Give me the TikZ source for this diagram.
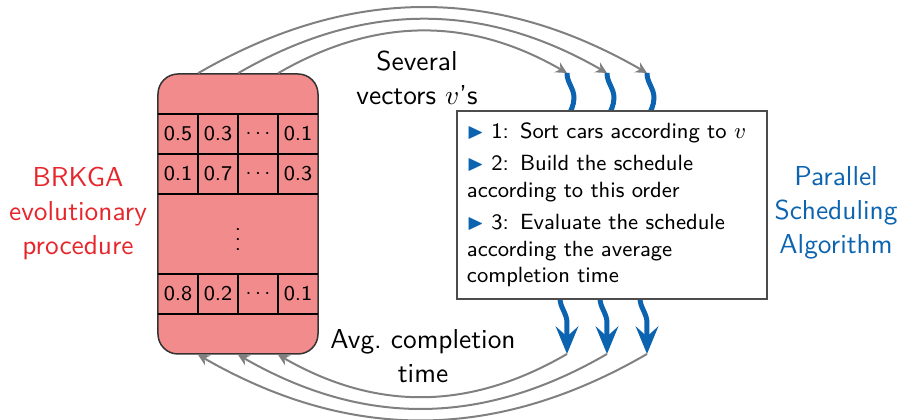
\documentclass[tikz,border=0pt]{standalone}
\usepackage{amssymb}
\usetikzlibrary{calc,arrows.meta,decorations.pathmorphing}

\definecolor{popred}{RGB}{242,139,139}
\definecolor{brkred}{RGB}{230,38,44}
\definecolor{algblue}{RGB}{12,100,176}

\newcommand{\itemtri}{{\color{algblue}$\blacktriangleright$}~}

\begin{document}
\begin{tikzpicture}[x=0.4pt, y=0.4pt,
  every node/.style={font=\sffamily},
  lbl/.style={align=center, font=\sffamily\fontsize{10.95}{13.6}\selectfont},
  cell/.style={inner sep=0pt, font=\sffamily\fontsize{8.4}{10}\selectfont},
  feed/.style={draw=gray, line width=0.8pt, -{Stealth[length=4.5pt,width=4.5pt]}, bend left=30},
  wave/.style={draw=algblue, line width=2pt, decorate,
    decoration={snake, segment length=32pt, amplitude=2.8pt, post length=4pt},
    -{Stealth[length=11pt,width=9pt,inset=4pt]}}]
\useasboundingbox (0,0) rectangle (903,420);

% Population of random-key vectors
\node[draw=black!80, line width=0.6pt, fill=popred, rounded corners=8pt,
  minimum width=64pt, minimum height=112pt, inner sep=0pt] (pop) at (238,206) {};
\foreach \y in {306,266,226,146,106}
  \draw[line width=0.5pt] (158,\y) -- (318,\y);
\foreach \x in {198,238,278} {
  \draw[line width=0.5pt] (\x,226) -- (\x,306);
  \draw[line width=0.5pt] (\x,106) -- (\x,146);
}
\foreach \r/\y/\a/\b/\d in {1/286/0.5/0.3/0.1, 2/246/0.1/0.7/0.3, 3/126/0.8/0.2/0.1} {
  \node[cell] (r\r-c1) at (178,\y) {\a};
  \node[cell] (r\r-c2) at (218,\y) {\b};
  \node[cell] (r\r-c3) at (258,\y) {$\cdots$};
  \node[cell] (r\r-c4) at (298,\y) {\d};
}
\node[cell] (dots) at (238,188) {$\vdots$};

% Wavy flows through the scheduler
\foreach \i/\x in {1/567,2/607,3/647} {
  \coordinate (in\i) at (\x,347);
  \coordinate (out\i) at (\x,66);
  \draw[wave] (in\i) -- (out\i);
}

\node[draw=black!70, line width=0.6pt, fill=white, minimum width=124pt,
  minimum height=75.2pt, inner xsep=4pt, text width=116pt, align=left,
  font=\sffamily\fontsize{8.8}{10.6}\selectfont]
  (alg) at (612,215) {\mbox{\itemtri 1: Sort cars according to $v$}\\[2.4pt]
  \itemtri 2: Build the schedule\\ according to this order\\[2.4pt]
  \itemtri 3: Evaluate the schedule\\ according the average\\ completion time};

% Vectors out, fitness back
\foreach \i/\dx in {1/40,2/0,3/-40} {
  \draw[feed] ($(pop.north)+(\dx,0)$) to (in\i);
  \draw[feed] (out\i) to ($(pop.south)+(\dx,0)$);
}

\node[lbl, text=brkred] (brkga) at (78,207) {BRKGA\\evolutionary\\procedure};
\node[lbl, text=algblue] (psa) at (836,207) {Parallel\\Scheduling\\Algorithm};
\node[lbl] (sev) at (417,342) {Several\\vectors $v$'s};
\node[lbl] (avg) at (423,64) {Avg.\ completion\\time};
\end{tikzpicture}
\end{document}
